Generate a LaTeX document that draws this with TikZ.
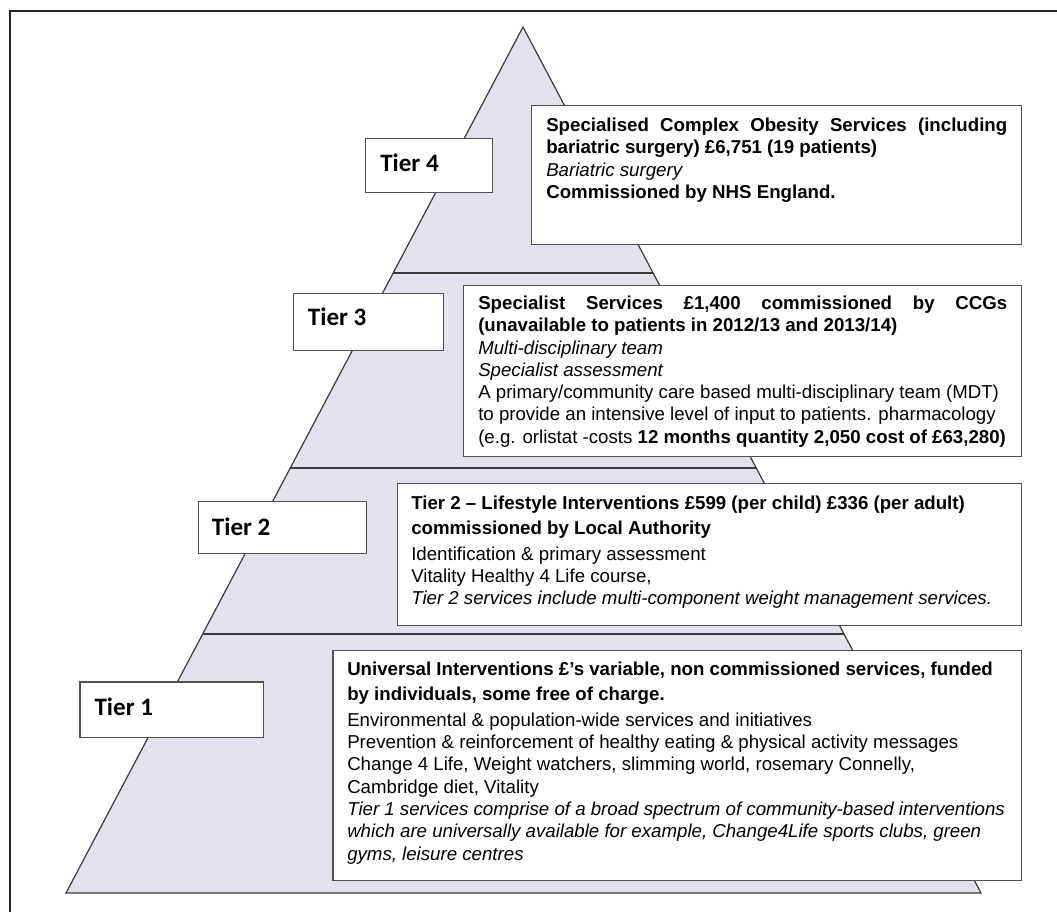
\documentclass[tikz,border=0pt]{standalone}
\usepackage{fontspec}
\setmainfont{Liberation Sans}
\newfontfamily\tierfont{Carlito}
\usetikzlibrary{calc}
\definecolor{pyr}{HTML}{E4E0EC}
\definecolor{edgecol}{HTML}{3A3A3A}
\definecolor{boxline}{HTML}{505050}
\tikzset{
  tierbox/.style={draw=boxline, fill=white, line width=1pt, rectangle, inner sep=0pt, anchor=north west},
  tierlabel/.style={anchor=base west, inner sep=0pt, font=\tierfont\bfseries\fontsize{18.8pt}{20pt}\selectfont},
  content/.style={anchor=base west, inner sep=0pt, align=left, text width=525pt,
    font=\fontsize{14pt}{16.7pt}\selectfont,
    execute at begin node={\spaceskip=0pt\xspaceskip=0pt\relax}},
  divider/.style={draw=edgecol, line width=0.9pt}
}
\begin{document}
\begin{tikzpicture}[x=0.75pt,y=-0.75pt]
\useasboundingbox (0,0) rectangle (1057,911);
\clip (0,0) rectangle (1057,911);
% outer frame
\draw[line width=1.5pt, black!85] (9.5,11) rectangle (1075,930);
% pyramid
\coordinate (apex) at (523,27);
\coordinate (bl) at (66,893);
\coordinate (br) at (981,893);
\filldraw[fill=pyr, draw=edgecol, line width=0.9pt] (apex) -- (br) -- (bl) -- cycle;
\coordinate (d3l) at ($(apex)!0.2841!(bl)$);
\coordinate (d3r) at ($(apex)!0.2841!(br)$);
\coordinate (d2l) at ($(apex)!0.5092!(bl)$);
\coordinate (d2r) at ($(apex)!0.5092!(br)$);
\coordinate (d1l) at ($(apex)!0.7009!(bl)$);
\coordinate (d1r) at ($(apex)!0.7009!(br)$);
\draw[divider] (d3l) -- (d3r);
\draw[divider] (d2l) -- (d2r);
\draw[divider] (d1l) -- (d1r);
% tier label boxes
\node[tierbox, minimum width=95.25pt, minimum height=40.5pt] (t4box) at (365,137.7) {};
\node[tierbox, minimum width=112.7pt, minimum height=43pt] (t3box) at (292.7,292.7) {};
\node[tierbox, minimum width=126pt, minimum height=39pt] (t2box) at (197.7,501) {};
\node[tierbox, minimum width=137.8pt, minimum height=41.8pt] (t1box) at (79.3,681.3) {};
\node[tierlabel] (t4lab) at (380,171) {Tier 4};
\node[tierlabel] (t3lab) at (307.7,325.7) {Tier 3};
\node[tierlabel] (t2lab) at (211.7,535) {Tier 2};
\node[tierlabel] (t1lab) at (94.3,715) {Tier 1};
% content boxes
\node[tierbox, minimum width=367.7pt, minimum height=104.25pt] (c4box) at (530.7,105) {};
\node[tierbox, minimum width=418.7pt, minimum height=128.25pt] (c3box) at (462.7,285) {};
\node[tierbox, minimum width=468.2pt, minimum height=106.5pt] (c2box) at (396.7,483) {};
\node[tierbox, minimum width=516.5pt, minimum height=172.3pt] (c1box) at (332.3,650) {};
% content texts
\node[content] (c4text) at (546,131.5) {%
\makebox[345.75pt][s]{\textbf{Specialised Complex Obesity Services (including}}\\
\textbf{bariatric surgery) £6,751 (19 patients)}\\
\textit{Bariatric surgery}\\
\textbf{Commissioned by NHS England.}};
\node[content] (c3text) at (478,309.5) {%
\makebox[396.75pt][s]{\textbf{Specialist Services £1,400 commissioned by CCGs}}\\
\textbf{(unavailable to patients in 2012/13 and 2013/14)}\\
\textit{Multi-disciplinary team}\\
\textit{Specialist assessment}\\
A primary/community care based multi-disciplinary team (MDT)\\
to provide an intensive level of input to patients. pharmacology\\
(e.g. orlistat -costs \textbf{12 months quantity 2,050 cost of £63,280)}};
\node[content] (c2text) at (411,509.5) {%
\textbf{Tier 2 – Lifestyle Interventions £599 (per child) £336 (per adult)}\\[2.4pt]
\textbf{commissioned by Local Authority}\\[2.4pt]
Identification \& primary assessment\\
Vitality Healthy 4 Life course,\\
\textit{Tier 2 services include multi-component weight management services.}};
\node[content] (c1text) at (347,675.5) {%
\textbf{Universal Interventions £’s variable, non commissioned services, funded}\\[2.4pt]
\textbf{by individuals, some free of charge.}\\[2.4pt]
Environmental \& population-wide services and initiatives\\
Prevention \& reinforcement of healthy eating \& physical activity messages\\
Change 4 Life, Weight watchers, slimming world, rosemary Connelly,\\
Cambridge diet, Vitality\\
\textit{Tier 1 services comprise of a broad spectrum of community-based interventions}\\
\textit{which are universally available for example, Change4Life sports clubs, green}\\
\textit{gyms, leisure centres}};
\end{tikzpicture}
\end{document}
